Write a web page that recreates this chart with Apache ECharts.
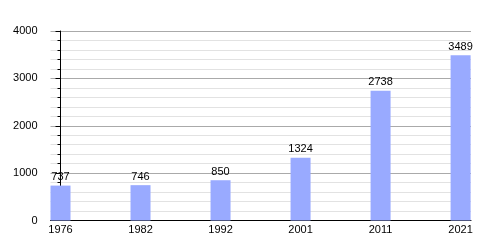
<!DOCTYPE html>
<html><head><meta charset="utf-8">
<script src="https://cdn.jsdelivr.net/npm/echarts@6/dist/echarts.min.js"></script>
<style>html,body{margin:0;padding:0;background:#fff}#c{width:500px;height:250px}</style>
</head><body><div id="c"></div>
<script>
const years = ['1976', '1982', '1992', '2001', '2011', '2021'];
const population = [737, 746, 850, 1324, 2738, 3489];
const yTicks = [0, 1000, 2000, 3000, 4000];

const chart = echarts.init(document.getElementById('c'), null, {renderer: 'canvas'});
const font = 'Liberation Sans, Arial, sans-serif';
chart.setOption({
  animation: false,
  grid: {left: 50.5, right: 29, top: 31, bottom: 29.5, containLabel: false},
  xAxis: {
    type: 'value', min: -0.125, max: 5.13,
    axisLine: {show: true, lineStyle: {color: '#000', width: 1}},
    axisTick: {show: false},
    splitLine: {show: false},
    axisLabel: {
      customValues: years.map((y, i) => i),
      formatter: v => years[Math.round(v)],
      color: '#000', fontSize: 11, fontFamily: font, margin: 4
    }
  },
  yAxis: {
    type: 'value', min: yTicks[0], max: yTicks[yTicks.length - 1], interval: 1000,
    axisLine: {show: true, lineStyle: {color: '#000', width: 1}},
    axisTick: {show: true, length: 5, lineStyle: {color: '#000'}},
    minorTick: {show: true, splitNumber: 5, length: 3, lineStyle: {color: '#000'}},
    splitLine: {show: true, lineStyle: {color: '#aaaaaa', width: 1}},
    minorSplitLine: {show: true, lineStyle: {color: '#e2e2e2', width: 1}},
    axisLabel: {color: '#000', fontSize: 11, fontFamily: font, margin: 13, formatter: v => String(v)}
  },
  series: [{
    type: 'bar',
    data: population.map((v, i) => [i, v]),
    barWidth: 20,
    itemStyle: {color: '#99aaff'},
    label: {show: true, position: 'top', distance: 3, color: '#000', fontSize: 11, fontFamily: font, formatter: p => p.value[1]}
  }]
});
</script></body></html>
